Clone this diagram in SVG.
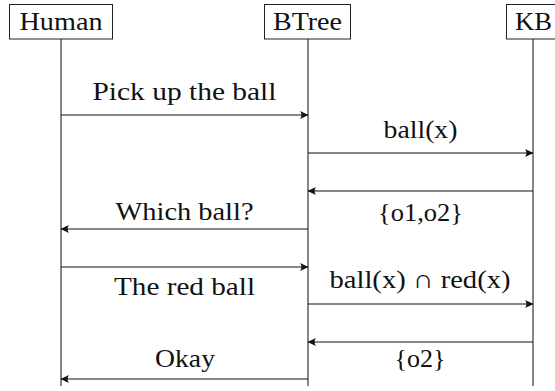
<svg xmlns="http://www.w3.org/2000/svg" width="555" height="391" viewBox="0 0 555 391">
<style>
text{font-family:"Liberation Serif","Times New Roman",serif;font-size:25.8px;fill:#111;text-anchor:middle}
.box{fill:#fff;stroke:#222;stroke-width:1}
.life{stroke:#222;stroke-width:1.1;fill:none}
.msg{stroke:#111;stroke-width:1.1;fill:none;marker-end:url(#arr)}
</style>
<defs>
<marker id="arr" markerUnits="userSpaceOnUse" markerWidth="12" markerHeight="10" refX="0" refY="0" viewBox="-10 -5 12 10" orient="auto" overflow="visible">
<path d="M0.5,0 L-8,-4 Q-5,0 -8,4 Z" fill="#111"/>
</marker>
</defs>
<g id="connectors">
<line class="life" x1="61" y1="39" x2="61" y2="386"/>
<line class="life" x1="308" y1="39" x2="308" y2="386"/>
<line class="life" x1="533" y1="39" x2="533" y2="386"/>
<line class="msg" x1="61" y1="115" x2="308" y2="115"/>
<line class="msg" x1="308" y1="153" x2="533" y2="153"/>
<line class="msg" x1="533" y1="191" x2="308" y2="191"/>
<line class="msg" x1="308" y1="229" x2="61" y2="229"/>
<line class="msg" x1="61" y1="267" x2="308" y2="267"/>
<line class="msg" x1="308" y1="304" x2="533" y2="304"/>
<line class="msg" x1="533" y1="342" x2="308" y2="342"/>
<line class="msg" x1="308" y1="379" x2="61" y2="379"/>
</g>
<g id="labels">
<text x="184.5" y="100" textLength="184" lengthAdjust="spacingAndGlyphs">Pick up the ball</text>
<text x="420.5" y="138" textLength="74" lengthAdjust="spacingAndGlyphs">ball(x)</text>
<text x="420.5" y="221" textLength="85" lengthAdjust="spacingAndGlyphs">{o1,o2}</text>
<text x="184.5" y="220" textLength="138" lengthAdjust="spacingAndGlyphs">Which ball?</text>
<text x="184.5" y="295" textLength="141" lengthAdjust="spacingAndGlyphs">The red ball</text>
<text x="420" y="288" textLength="181" lengthAdjust="spacingAndGlyphs">ball(x) ∩ red(x)</text>
<text x="420" y="367" textLength="51" lengthAdjust="spacingAndGlyphs">{o2}</text>
<text x="185" y="367" textLength="60" lengthAdjust="spacingAndGlyphs">Okay</text>
</g>
<g id="human">
<rect class="box" x="9.5" y="4.5" width="103" height="34.5"/>
<text x="61" y="30" textLength="83" lengthAdjust="spacingAndGlyphs">Human</text>
</g>
<g id="btree">
<rect class="box" x="264.5" y="4.5" width="86" height="34.5"/>
<text x="307.5" y="30" textLength="69" lengthAdjust="spacingAndGlyphs">BTree</text>
</g>
<g id="kb">
<rect class="box" x="506.5" y="4.5" width="54" height="34.5"/>
<text x="533.5" y="30" textLength="37" lengthAdjust="spacingAndGlyphs">KB</text>
</g>
</svg>
